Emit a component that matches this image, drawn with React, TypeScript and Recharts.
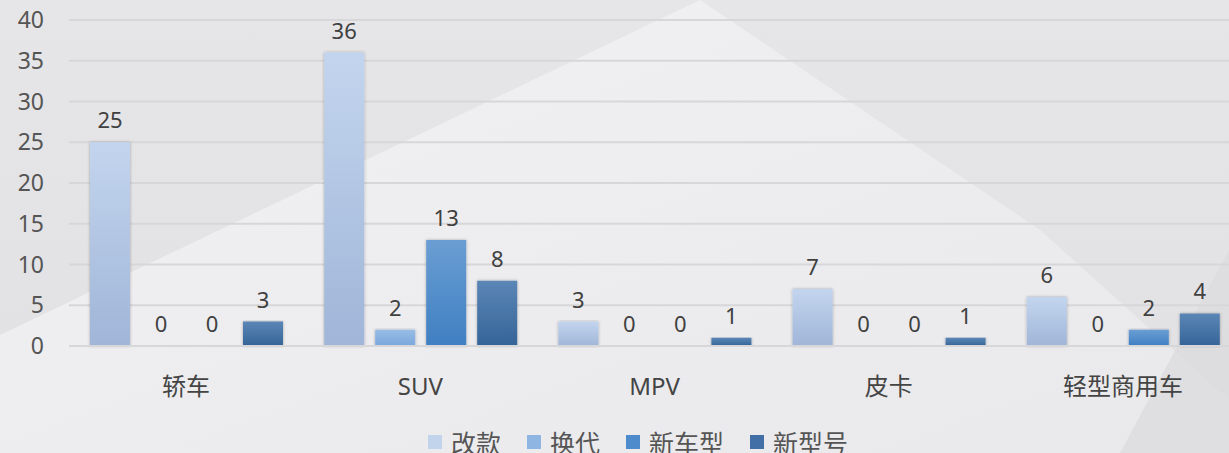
import { BarChart, Bar, XAxis, YAxis, CartesianGrid, LabelList } from "recharts";

const categories = ["轿车", "SUV", "MPV", "皮卡", "轻型商用车"];
const gaiKuan = [25, 36, 3, 7, 6];
const huanDai = [0, 2, 0, 0, 0];
const xinCheXing = [0, 13, 0, 0, 2];
const xinXingHao = [3, 8, 1, 1, 4];
const yTicks = [0, 5, 10, 15, 20, 25, 30, 35, 40];

const series = [
  { key: "改款", values: gaiKuan, top: "#c3d5ee", bottom: "#a0b5d8", swatch: "#c2d4ec" },
  { key: "换代", values: huanDai, top: "#98bde6", bottom: "#7aa7dc", swatch: "#8fb5e2" },
  { key: "新车型", values: xinCheXing, top: "#6a9ed3", bottom: "#3f7fc2", swatch: "#4d8bcd" },
  { key: "新型号", values: xinXingHao, top: "#5b86b6", bottom: "#356498", swatch: "#4270a6" },
];

const data = categories.map((name, i) => {
  const row: Record<string, string | number> = { name };
  series.forEach((s) => {
    row[s.key] = s.values[i];
  });
  return row;
});

const FONT = "'Noto Sans', 'Noto Sans CJK SC', sans-serif";

function CategoryTick(props: any) {
  const { x, y, payload } = props;
  return (
    <text x={x} y={y + 31} textAnchor="middle" dominantBaseline="central" fill="#444" fontSize={24} fontFamily={FONT}>
      {payload.value}
    </text>
  );
}

function ChartLegend() {
  return (
    <div
      style={{
        position: "absolute",
        left: 428,
        top: 424,
        display: "flex",
        alignItems: "center",
        fontFamily: FONT,
        fontSize: 25,
        color: "#555",
        whiteSpace: "nowrap",
      }}
    >
      {series.map((s) => (
        <div key={s.key} style={{ display: "flex", alignItems: "center", marginRight: 26 }}>
          <span style={{ display: "inline-block", width: 14, height: 14, background: s.swatch, marginRight: 9 }} />
          <span>{s.key}</span>
        </div>
      ))}
    </div>
  );
}

export default function App() {
  return (
    <div
      style={{
        position: "absolute",
        left: 0,
        top: 0,
        width: 1229,
        height: 453,
        overflow: "hidden",
        background: "linear-gradient(180deg, #e6e6e8 0%, #e1e1e4 100%)",
      }}
    >
      {/* background shapes */}
      <div
        style={{
          position: "absolute",
          inset: 0,
          background: "linear-gradient(160deg, #f2f2f4 0%, #ececee 60%, #e9e9eb 100%)",
          clipPath: "polygon(700px 0, 0 335px, 0 453px, 1229px 453px, 1229px 400px, 1040px 230px)",
        }}
      />
      <div
        style={{
          position: "absolute",
          inset: 0,
          background: "#dcdcdf",
          clipPath: "polygon(1229px 250px, 1229px 453px, 1120px 453px)",
          opacity: 0.8,
        }}
      />
      <div style={{ position: "absolute", left: 0, top: 0 }}>
        <BarChart
          width={1229}
          height={453}
          data={data}
          margin={{ top: 20, right: -11, bottom: 77, left: 0 }}
          barCategoryGap={20}
          barGap={11}
          style={{ overflow: "hidden" }}
        >
          <defs>
            {series.map((s, i) => (
              <linearGradient key={s.key} id={`grad${i}`} x1="0" y1="0" x2="0" y2="1">
                <stop offset="0%" stopColor={s.top} />
                <stop offset="100%" stopColor={s.bottom} />
              </linearGradient>
            ))}
            <filter id="barShadow" x="-20%" y="-5%" width="140%" height="110%">
              <feDropShadow dx="0" dy="0" stdDeviation="1.5" floodColor="#000" floodOpacity="0.3" />
            </filter>
          </defs>
          <CartesianGrid vertical={false} stroke="#d7d7d9" strokeWidth={2} />
          <XAxis
            dataKey="name"
            height={30}
            axisLine={{ stroke: "#d7d7d9", strokeWidth: 2 }}
            tickLine={false}
            tick={<CategoryTick />}
            interval={0}
          />
          <YAxis
            width={69}
            domain={[0, 40]}
            ticks={yTicks}
            axisLine={false}
            tickLine={false}
            tickMargin={19}
            tick={{ fill: "#555", fontSize: 23, fontFamily: FONT }}
          />
          {series.map((s, i) => (
            <Bar
              key={s.key}
              dataKey={s.key}
              fill={`url(#grad${i})`}
              barSize={40}
              minPointSize={(v: number) => (v === 0 ? 0.01 : 0)}
              isAnimationActive={false}
              filter="url(#barShadow)"
            >
              <LabelList dataKey={s.key} position="top" offset={14} fill="#404040" fontSize={22} fontFamily={FONT} />
            </Bar>
          ))}
        </BarChart>
      </div>
      <ChartLegend />
    </div>
  );
}
